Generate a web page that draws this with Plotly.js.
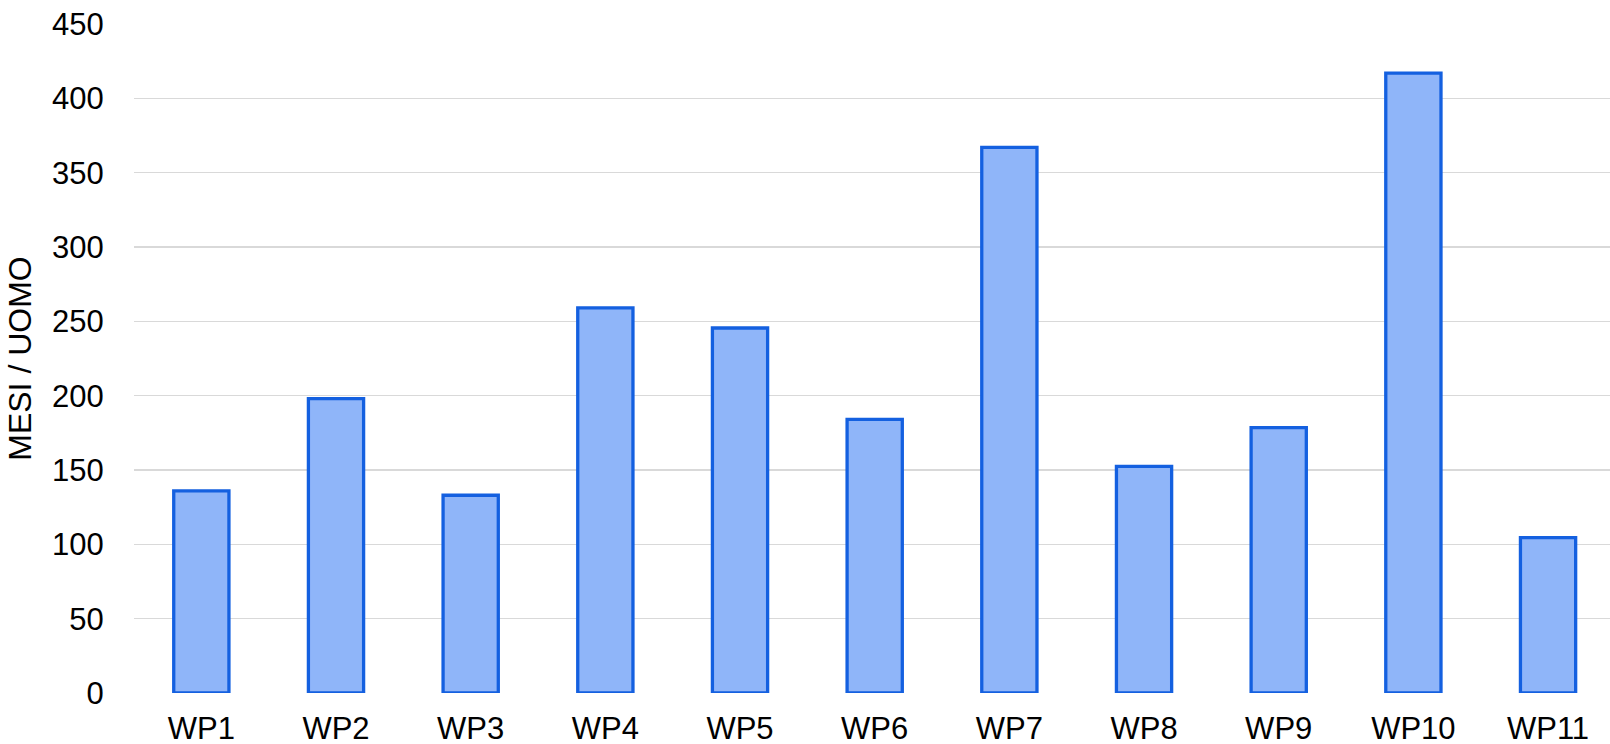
<!DOCTYPE html>
<html>
<head>
<meta charset="utf-8">
<script src="https://cdn.plot.ly/plotly-3.0.1.min.js"></script>
<style>html,body{margin:0;padding:0;background:#fff;}#chart{width:1610px;height:744px;}</style>
</head>
<body>
<div id="chart"></div>
<script>
const categories = ["WP1","WP2","WP3","WP4","WP5","WP6","WP7","WP8","WP9","WP10","WP11"];
const mesiUomo = [136, 198, 133, 259, 245.5, 184, 367, 152.5, 178.5, 417, 104.5];
const yTickValues = [0, 50, 100, 150, 200, 250, 300, 350, 400, 450];
const yTitle = "MESI / UOMO";

const trace = {
  type: 'bar',
  x: categories,
  y: mesiUomo,
  marker: {color: '#8fb5f9', line: {color: '#1460e0', width: 3.3}},
  hoverinfo: 'x+y'
};

const layout = {
  width: 1610, height: 744,
  margin: {l: 134, r: 0, t: 24, b: 51, pad: 0},
  paper_bgcolor: '#ffffff', plot_bgcolor: '#ffffff',
  font: {family: 'Liberation Sans, Arial, sans-serif', color: '#000000', size: 31},
  bargap: 0.59,
  showlegend: false,
  xaxis: {
    type: 'category',
    range: [-0.5, 10.46],
    showgrid: false, zeroline: false, showline: false,
    ticks: 'outside', ticklen: 8, tickcolor: 'rgba(0,0,0,0)',
    tickfont: {size: 31, color: '#000000'}
  },
  yaxis: {
    range: [0, 450],
    tickvals: yTickValues,
    ticktext: yTickValues.map(String),
    showgrid: true, gridcolor: '#d9d9d9', gridwidth: 1.4,
    zeroline: false, showline: false,
    ticks: 'outside', ticklen: 23, tickcolor: 'rgba(0,0,0,0)',
    tickfont: {size: 31, color: '#000000'},
    title: {text: yTitle, font: {size: 32, color: '#000000'}, standoff: 10}
  }
};

Plotly.newPlot('chart', [trace], layout, {displayModeBar: false, staticPlot: true});
</script>
</body>
</html>
